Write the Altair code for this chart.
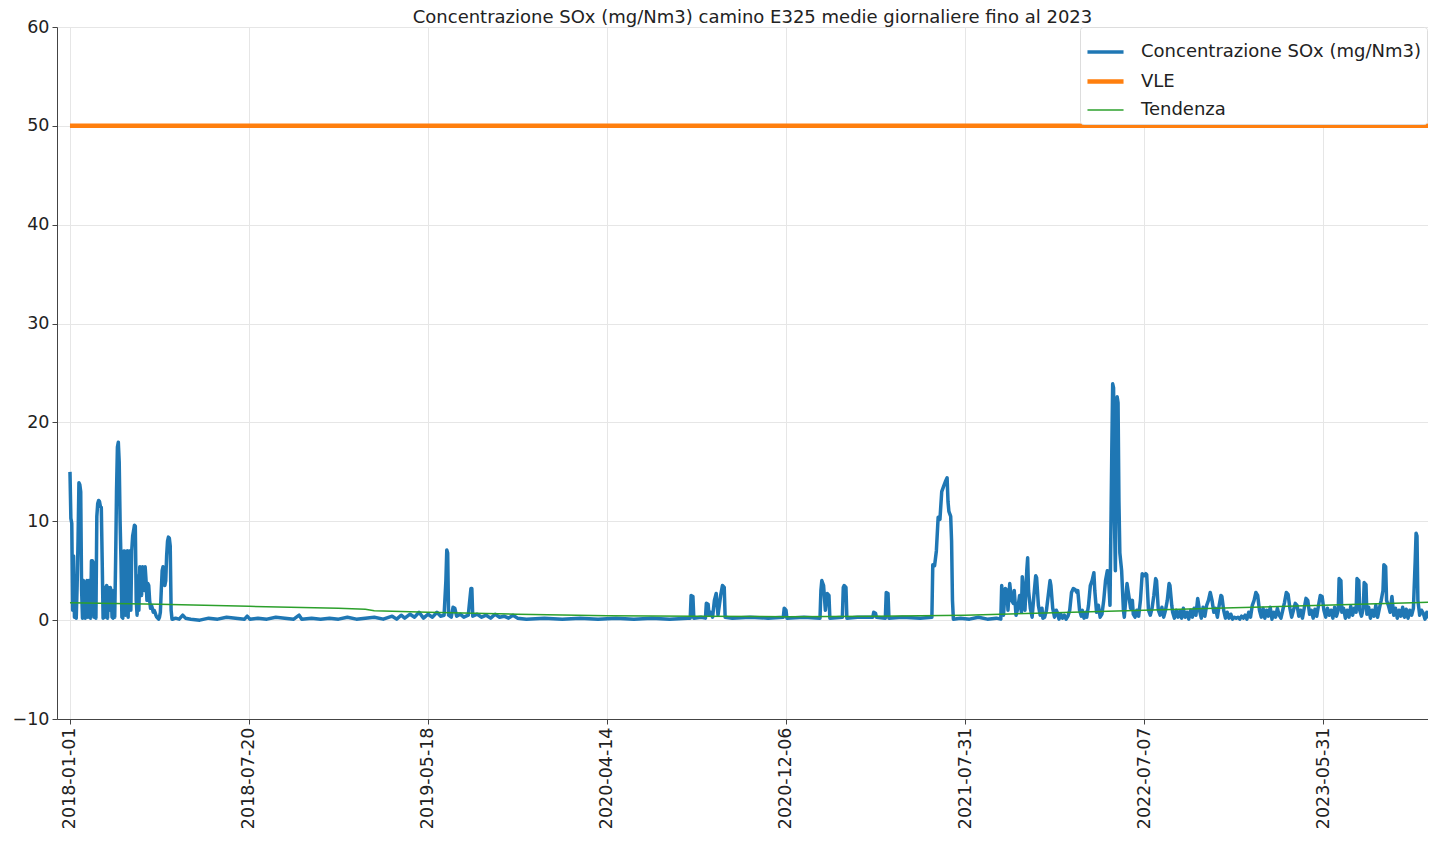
import altair as alt
import pandas as pd

TITLE = "Concentrazione SOx (mg/Nm3) camino E325 medie giornaliere fino al 2023"
SERIES = ["Concentrazione SOx (mg/Nm3)", "VLE", "Tendenza"]
COLORS = ["#1f77b4", "#ff7f0e", "#2ca02c"]
WIDTHS = [3.5, 4.5, 1.5]

# x axis: row position in the daily table, labelled with the date of that row
tick_idx = [0, 200, 400, 600, 800, 1000, 1200, 1400]
tick_labels = ["2018-01-01", "2018-07-20", "2019-05-18", "2020-04-14",
               "2020-12-06", "2021-07-31", "2022-07-07", "2023-05-31"]

# SOx daily means, first rows (row 0 .. 114)
sox_start = [15.0, 10.3, 9.8, 1.0, 6.5, 0.3, 4.5, 0.2, 3.5, 8.0,
             13.9, 13.7, 13.0, 3.0, 0.2, 4.0, 1.0, 0.2, 3.8, 4.0,
             0.3, 4.0, 4.0, 0.2, 6.0, 6.0, 5.8, 0.3, 3.0, 0.2,
             10.5, 11.8, 12.1, 12.0, 11.5, 11.4, 6.0, 0.2, 3.0, 0.3,
             3.3, 3.5, 0.2, 3.3, 1.0, 3.3, 3.0, 0.3, 0.2, 3.0,
             0.3, 6.0, 13.0, 17.5, 18.0, 16.0, 10.0, 6.0, 0.3, 0.2,
             7.0, 7.0, 0.5, 6.9, 7.0, 0.3, 7.0, 7.0, 1.0, 7.0,
             8.5, 9.0, 9.6, 9.5, 2.0, 0.5, 4.5, 1.0, 5.4, 5.0,
             2.5, 5.4, 5.3, 3.0, 5.4, 4.0, 2.0, 3.7, 3.5, 2.0,
             1.2, 1.5, 1.2, 0.8, 1.0, 0.8, 0.5, 0.3, 0.2, 0.1,
             0.3, 0.8, 3.0, 5.0, 5.4, 5.0, 3.5, 4.0, 6.5, 8.0,
             8.4, 8.3, 7.5, 1.0, 0.1]

# SOx daily means, rows 115 .. 1040 (row, value)
sox_mid = [(115, 0.1), (118, 0.2), (122, 0.1), (126, 0.5), (129, 0.2), (135, 0.1), (145, 0.0),
           (155, 0.2), (165, 0.1), (175, 0.3), (185, 0.2), (195, 0.1), (198, 0.4), (201, 0.1),
           (210, 0.2), (220, 0.1), (230, 0.3), (240, 0.2), (250, 0.1), (256, 0.5), (259, 0.1),
           (270, 0.2), (280, 0.1), (290, 0.2), (300, 0.1), (310, 0.3), (320, 0.1), (330, 0.2),
           (340, 0.3), (350, 0.1), (360, 0.4), (365, 0.1), (370, 0.5), (374, 0.2), (380, 0.6),
           (385, 0.3), (390, 0.8), (395, 0.2), (400, 0.6), (405, 0.3), (410, 0.8), (414, 0.4),
           (418, 0.5), (420, 4.0), (421, 7.1), (422, 6.8), (423, 0.5), (426, 0.3), (428, 1.3),
           (430, 1.2), (432, 0.4), (436, 0.6), (440, 0.3), (445, 0.5), (448, 3.2), (449, 3.2),
           (450, 0.4), (455, 0.6), (460, 0.3), (465, 0.5), (470, 0.2), (475, 0.6), (480, 0.3),
           (485, 0.4), (490, 0.2), (495, 0.5), (500, 0.2), (510, 0.1), (530, 0.2), (550, 0.1),
           (570, 0.2), (590, 0.1), (610, 0.2), (630, 0.1), (650, 0.2), (670, 0.1), (690, 0.2),
           (693, 0.2), (694, 2.5), (696, 2.4), (697, 0.2), (705, 0.3), (710, 0.2), (711, 1.7),
           (713, 1.6), (714, 0.5), (716, 0.8), (718, 0.3), (720, 2.0), (722, 2.7), (724, 0.5),
           (727, 2.5), (729, 3.5), (731, 3.3), (732, 0.3), (740, 0.2), (760, 0.3), (780, 0.2),
           (797, 0.3), (798, 1.2), (800, 1.0), (801, 0.2), (820, 0.3), (838, 0.2), (839, 3.0),
           (840, 4.0), (842, 3.5), (844, 1.0), (846, 2.7), (848, 2.5), (849, 0.2), (863, 0.3),
           (864, 3.3), (865, 3.5), (867, 3.3), (868, 0.2), (880, 0.3), (897, 0.3), (898, 0.8),
           (900, 0.7), (901, 0.3), (911, 0.2), (912, 2.8), (914, 2.7), (915, 0.2), (930, 0.3),
           (950, 0.2), (963, 0.3), (964, 5.6), (966, 5.5), (968, 7.0), (970, 10.4), (972, 10.2),
           (974, 13.0), (976, 13.5), (978, 14.0), (980, 14.4), (981, 12.0), (982, 11.0),
           (984, 10.5), (985, 8.0), (986, 2.0), (987, 0.1), (995, 0.2), (1005, 0.1), (1015, 0.3),
           (1025, 0.1), (1035, 0.2), (1040, 0.1)]

# SOx daily means, rows 1041 .. end (row, value)
sox_late = [(1041, 3.5), (1043, 0.5), (1045, 3.2), (1047, 3.0), (1048, 1.0), (1050, 3.7),
            (1052, 2.0), (1054, 1.7), (1055, 3.0), (1057, 0.5), (1059, 1.2), (1061, 2.5),
            (1063, 0.8), (1064, 4.4), (1066, 2.3), (1067, 1.0), (1069, 5.0), (1070, 6.3),
            (1071, 3.0), (1073, 1.2), (1075, 0.3), (1077, 2.5), (1079, 4.5), (1080, 4.3),
            (1082, 1.5), (1084, 0.5), (1086, 1.2), (1087, 0.2), (1089, 0.3), (1091, 1.0),
            (1093, 2.5), (1095, 4.0), (1096, 3.5), (1098, 1.2), (1100, 0.3), (1102, 1.0),
            (1103, 0.8), (1105, 0.1), (1107, 0.6), (1109, 0.2), (1111, 0.5), (1113, 0.1),
            (1115, 0.4), (1117, 1.0), (1119, 2.8), (1121, 3.2), (1123, 3.1), (1125, 2.8),
            (1126, 3.0), (1128, 1.0), (1130, 0.4), (1131, 1.0), (1133, 0.2), (1135, 0.8),
            (1136, 0.3), (1138, 1.5), (1140, 3.5), (1142, 4.0), (1144, 4.8), (1145, 3.0),
            (1147, 0.8), (1149, 1.5), (1151, 0.3), (1153, 0.6), (1155, 2.0), (1157, 4.0),
            (1159, 5.0), (1160, 4.8), (1162, 1.5), (1164, 17.0), (1165, 23.9), (1166, 23.5),
            (1167, 10.0), (1168, 5.0), (1169, 15.0), (1170, 22.6), (1171, 22.0), (1172, 12.0),
            (1173, 6.8), (1175, 5.0), (1177, 1.0), (1178, 0.3), (1180, 2.5), (1181, 3.7),
            (1183, 2.5), (1185, 1.2), (1187, 2.0), (1188, 0.6), (1190, 0.3), (1192, 1.0),
            (1194, 0.4), (1196, 2.0), (1198, 4.7), (1200, 4.5), (1202, 4.7), (1203, 4.6),
            (1205, 1.0), (1207, 0.5), (1209, 1.2), (1211, 2.5), (1213, 4.2), (1214, 4.0),
            (1216, 1.0), (1218, 0.5), (1220, 1.3), (1222, 0.3), (1224, 1.0), (1226, 2.0),
            (1228, 3.7), (1229, 3.5), (1231, 1.5), (1232, 0.8), (1234, 0.2), (1236, 1.0),
            (1238, 0.3), (1240, 0.9), (1242, 0.2), (1244, 1.2), (1246, 0.3), (1248, 0.8),
            (1250, 0.1), (1252, 1.0), (1254, 0.3), (1256, 1.2), (1258, 0.5), (1260, 2.2),
            (1262, 1.0), (1264, 0.2), (1266, 1.3), (1268, 0.4), (1270, 1.5), (1272, 2.0),
            (1274, 2.8), (1276, 2.0), (1278, 0.8), (1280, 1.2), (1282, 0.3), (1284, 1.5),
            (1286, 2.5), (1287, 2.4), (1289, 1.0), (1291, 0.2), (1293, 0.8), (1295, 0.2),
            (1297, 0.6), (1299, 0.1), (1301, 0.3), (1303, 0.2), (1305, 0.3), (1307, 0.1),
            (1309, 0.4), (1311, 0.2), (1313, 0.5), (1315, 0.1), (1317, 0.8), (1319, 0.3),
            (1321, 1.5), (1323, 2.0), (1325, 2.8), (1327, 2.5), (1329, 1.0), (1331, 0.3),
            (1333, 1.2), (1335, 0.2), (1337, 1.0), (1339, 0.4), (1341, 1.3), (1343, 0.1),
            (1345, 0.8), (1347, 0.3), (1349, 1.2), (1351, 0.5), (1353, 0.2), (1355, 1.0),
            (1357, 1.8), (1359, 2.8), (1361, 2.6), (1363, 1.2), (1365, 0.3), (1367, 1.0),
            (1369, 1.7), (1371, 1.5), (1373, 0.4), (1375, 1.0), (1377, 0.2), (1379, 1.2),
            (1381, 2.2), (1383, 2.0), (1385, 0.6), (1387, 1.0), (1389, 0.2), (1391, 1.1),
            (1393, 0.4), (1395, 1.5), (1397, 2.5), (1399, 2.4), (1401, 1.0), (1403, 0.3),
            (1405, 1.2), (1407, 0.5), (1409, 1.0), (1411, 0.2), (1413, 1.3), (1415, 0.4),
            (1417, 1.0), (1418, 4.2), (1420, 4.0), (1421, 0.8), (1423, 1.2), (1425, 0.2),
            (1427, 1.0), (1429, 0.3), (1431, 1.4), (1433, 0.5), (1435, 1.2), (1437, 0.8),
            (1438, 4.2), (1440, 4.0), (1441, 1.0), (1443, 0.4), (1445, 1.2), (1446, 3.8),
            (1448, 3.6), (1449, 0.6), (1451, 1.3), (1453, 0.2), (1455, 1.0), (1457, 0.4),
            (1459, 1.5), (1461, 0.3), (1463, 1.2), (1465, 2.0), (1467, 3.0), (1468, 5.6),
            (1470, 5.4), (1471, 2.0), (1473, 1.5), (1475, 0.8), (1477, 2.4), (1479, 0.5),
            (1481, 1.2), (1483, 0.2), (1485, 1.0), (1487, 0.4), (1489, 1.3), (1491, 0.3),
            (1493, 1.1), (1495, 0.2), (1497, 1.0), (1499, 0.5), (1501, 1.2), (1503, 6.0),
            (1504, 8.8), (1505, 8.5), (1506, 2.0), (1508, 0.5), (1510, 1.0), (1512, 0.7),
            (1514, 0.1), (1516, 0.8), (1518, 0.3), (1520, 1.2), (1522, 0.5), (1524, 1.0),
            (1526, 1.0), (1528, 0.6), (1530, 1.0)]

# emission limit value (VLE)
vle_idx = [0, 1530]
vle_val = [50, 50]

# trend line
trend_idx = [0, 100, 200, 300, 330, 340, 400, 500, 600, 700, 800, 900, 1000, 1100,
             1200, 1300, 1400, 1500, 1530]
trend_val = [1.75, 1.6, 1.4, 1.2, 1.1, 0.95, 0.8, 0.6, 0.45, 0.4, 0.35, 0.4, 0.5, 0.75,
             1.0, 1.25, 1.5, 1.75, 1.85]

sox_rows = [(i, v) for i, v in enumerate(sox_start)] + sox_mid + sox_late
df_sox = pd.DataFrame(sox_rows, columns=["idx", "val"])
df_sox["serie"] = SERIES[0]
df_vle = pd.DataFrame({"idx": vle_idx, "val": vle_val, "serie": SERIES[1]})
df_trend = pd.DataFrame({"idx": trend_idx, "val": trend_val, "serie": SERIES[2]})

label_expr = "".join(f"datum.value == {i} ? '{l}' : " for i, l in zip(tick_idx, tick_labels)) + "''"

FONT = "DejaVu Sans"

x_enc = alt.X("idx:Q",
              scale=alt.Scale(domain=[-14.5, 1517.3], nice=False, zero=False),
              axis=alt.Axis(values=tick_idx, labelExpr=label_expr, labelAngle=270,
                            labelAlign="right", labelBaseline="middle", labelPadding=3,
                            tickSize=5, title=None, labelFontSize=17.5, gridColor="#e6e6e6",
                            domainColor="#444", tickColor="#444", labelColor="#222",
                            labelFont=FONT))
y_enc = alt.Y("val:Q",
              scale=alt.Scale(domain=[-10, 60], nice=False, zero=False),
              axis=alt.Axis(values=[-10, 0, 10, 20, 30, 40, 50, 60], tickSize=5,
                            labelPadding=3, title=None, labelFontSize=17.5,
                            gridColor="#e6e6e6", domainColor="#444", tickColor="#444",
                            labelColor="#222", labelFont=FONT))
color_enc = alt.Color("serie:N",
                      scale=alt.Scale(domain=SERIES, range=COLORS),
                      legend=alt.Legend(title=None, orient="none", legendX=1023, legendY=0,
                                        symbolType="stroke", symbolSize=1300,
                                        labelFontSize=18, labelFont=FONT, labelColor="#222",
                                        labelLimit=500,
                                        fillColor="white", strokeColor="#dddddd",
                                        padding=5, cornerRadius=3, labelOffset=15,
                                        rowPadding=0))
sw_enc = alt.StrokeWidth("serie:N",
                         scale=alt.Scale(type="ordinal", domain=SERIES, range=WIDTHS),
                         legend=alt.Legend(title=None, orient="none", legendX=1023, legendY=0))

def layer(df):
    return alt.Chart(df).mark_line(clip=True, strokeJoin="round").encode(
        x=x_enc, y=y_enc, color=color_enc, strokeWidth=sw_enc, order="idx:Q")

chart = alt.layer(layer(df_sox), layer(df_vle), layer(df_trend)).properties(
    width=1371, height=692,
    title=alt.TitleParams(TITLE, fontSize=18, font=FONT, fontWeight="normal",
                          color="#222", offset=-9, dx=10, frame="group"),
    autosize=alt.AutoSizeParams(type="none"),
    padding={"left": 49, "top": 19, "right": 0, "bottom": 109},
).configure_view(stroke=None)

chart.save("out.html", embed_options={"renderer": "svg", "actions": False})
